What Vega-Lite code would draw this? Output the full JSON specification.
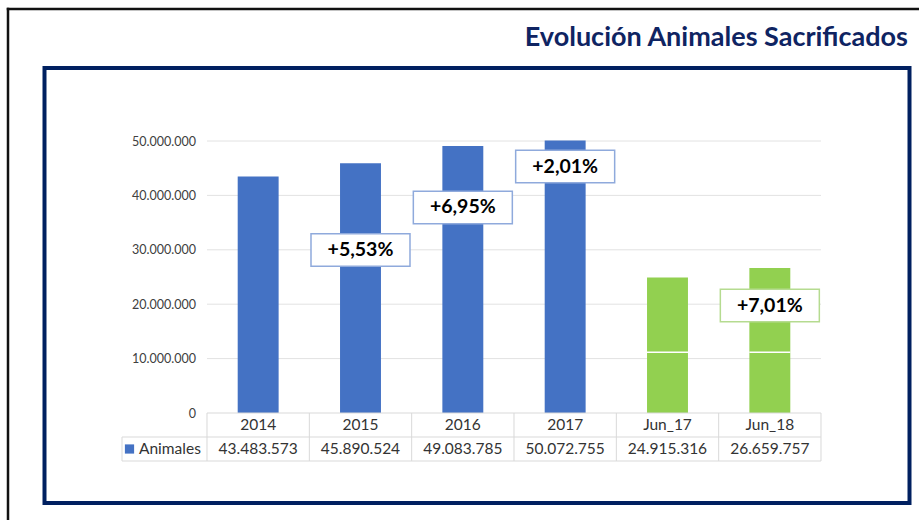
{
  "$schema": "https://vega.github.io/schema/vega-lite/v6.json",
  "width": 865,
  "height": 435,
  "autosize": {"type": "none"},
  "padding": {"left": 44.5, "top": 68, "right": 9.5, "bottom": 17},
  "background": "white",
  "config": {
    "view": {"stroke": "#002060", "strokeWidth": 4},
    "font": "Lato",
    "locale": {"number": {"decimal": ",", "thousands": ".", "grouping": [3], "currency": ["", " €"]}}
  },
  "datasets": {
    "animales": [
      {"periodo": "2014", "animales": 43483573, "grupo": "Año"},
      {"periodo": "2015", "animales": 45890524, "grupo": "Año"},
      {"periodo": "2016", "animales": 49083785, "grupo": "Año"},
      {"periodo": "2017", "animales": 50072755, "grupo": "Año"},
      {"periodo": "Jun_17", "animales": 24915316, "grupo": "Junio", "corte": 11160000},
      {"periodo": "Jun_18", "animales": 26659757, "grupo": "Junio", "corte": 11160000}
    ],
    "variaciones": [
      {"periodo": "2015", "texto": "+5,53%", "pos": 29960000, "grupo": "Año"},
      {"periodo": "2016", "texto": "+6,95%", "pos": 37780000, "grupo": "Año"},
      {"periodo": "2017", "texto": "+2,01%", "pos": 45310000, "grupo": "Año"},
      {"periodo": "Jun_18", "texto": "+7,01%", "pos": 19760000, "grupo": "Junio"}
    ],
    "rejilla": [
      {"v": 10000000}, {"v": 20000000}, {"v": 30000000}, {"v": 40000000}, {"v": 50000000}
    ],
    "uno": [{}]
  },
  "data": {"name": "animales"},
  "layer": [
    {
      "data": {"name": "rejilla"},
      "mark": {"type": "rule", "color": "#e2e2e2", "strokeWidth": 1},
      "encoding": {
        "x": {"datum": "2014", "type": "nominal", "bandPosition": 0, "axis": null},
        "x2": {"datum": "Jun_18", "bandPosition": 1},
        "y": {"field": "v", "type": "quantitative", "title": null}
      }
    },
    {
      "mark": {"type": "bar", "width": {"band": 0.4}},
      "encoding": {
        "x": {
          "field": "periodo", "type": "nominal", "sort": null, "axis": null,
          "scale": {"domain": ["serie", "2014", "2015", "2016", "2017", "Jun_17", "Jun_18"], "paddingInner": 0, "paddingOuter": 0.7264, "align": 0.4047}
        },
        "y": {
          "field": "animales", "type": "quantitative", "title": null,
          "scale": {"domain": [-16544118, 63419118], "nice": false, "zero": false},
          "axis": {
            "values": [0, 10000000, 20000000, 30000000, 40000000, 50000000],
            "format": ",d", "grid": false, "domain": false, "ticks": false, "tickSize": 0,
            "labelPadding": 0, "offset": -151, "title": null,
            "labelFont": "Lato", "labelFontSize": 12.5, "labelColor": "#404040"
          }
        },
        "color": {
          "field": "grupo", "type": "nominal",
          "scale": {"domain": ["Año", "Junio"], "range": ["#4472C4", "#92D050"]},
          "legend": null
        }
      }
    },
    {
      "transform": [{"filter": "datum.corte != null"}],
      "mark": {"type": "tick", "color": "white", "thickness": 1.5, "size": 41, "orient": "horizontal", "opacity": 1},
      "encoding": {
        "x": {"field": "periodo", "type": "nominal", "axis": null},
        "y": {"field": "corte", "type": "quantitative", "title": null}
      }
    },
    {
      "data": {"name": "uno"},
      "mark": {"type": "rule", "color": "#d9d9d9", "strokeWidth": 1},
      "encoding": {
        "x": {"datum": "2014", "type": "nominal", "bandPosition": 0, "axis": null},
        "x2": {"datum": "Jun_18", "bandPosition": 1},
        "y": {"datum": 0, "type": "quantitative", "title": null}
      }
    },
    {
      "data": {"name": "uno"},
      "mark": {"type": "rule", "color": "#d9d9d9", "strokeWidth": 1},
      "encoding": {
        "x": {"datum": "2014", "type": "nominal", "bandPosition": -0.8306, "axis": null},
        "x2": {"datum": "Jun_18", "bandPosition": 1},
        "y": {"datum": -4411765, "type": "quantitative", "title": null}
      }
    },
    {
      "data": {"name": "uno"},
      "mark": {"type": "rule", "color": "#d9d9d9", "strokeWidth": 1},
      "encoding": {
        "x": {"datum": "2014", "type": "nominal", "bandPosition": -0.8306, "axis": null},
        "x2": {"datum": "Jun_18", "bandPosition": 1},
        "y": {"datum": -8823529, "type": "quantitative", "title": null}
      }
    },
    {
      "mark": {"type": "rule", "color": "#d9d9d9", "strokeWidth": 1},
      "encoding": {
        "x": {"field": "periodo", "type": "nominal", "bandPosition": 0, "axis": null},
        "y": {"datum": 0, "type": "quantitative", "title": null},
        "y2": {"datum": -8823529}
      }
    },
    {
      "data": {"name": "uno"},
      "mark": {"type": "rule", "color": "#d9d9d9", "strokeWidth": 1},
      "encoding": {
        "x": {"datum": "Jun_18", "type": "nominal", "bandPosition": 1, "axis": null},
        "y": {"datum": 0, "type": "quantitative", "title": null},
        "y2": {"datum": -8823529}
      }
    },
    {
      "data": {"name": "uno"},
      "mark": {"type": "rule", "color": "#d9d9d9", "strokeWidth": 1},
      "encoding": {
        "x": {"datum": "2014", "type": "nominal", "bandPosition": -0.8306, "axis": null},
        "y": {"datum": -4411765, "type": "quantitative", "title": null},
        "y2": {"datum": -8823529}
      }
    },
    {
      "mark": {"type": "text", "font": "Lato", "fontSize": 15.5, "color": "#333333", "baseline": "middle"},
      "encoding": {
        "x": {"field": "periodo", "type": "nominal", "axis": null},
        "y": {"datum": -2205882, "type": "quantitative", "title": null},
        "text": {"field": "periodo", "type": "nominal"}
      }
    },
    {
      "mark": {"type": "text", "font": "Lato", "fontSize": 15.5, "color": "#333333", "baseline": "middle"},
      "encoding": {
        "x": {"field": "periodo", "type": "nominal", "axis": null},
        "y": {"datum": -6617647, "type": "quantitative", "title": null},
        "text": {"field": "animales", "type": "quantitative", "format": ",d"}
      }
    },
    {
      "data": {"name": "uno"},
      "mark": {"type": "point", "shape": "square", "size": 85, "filled": true, "color": "#4472C4", "opacity": 1},
      "encoding": {
        "x": {"datum": "2014", "type": "nominal", "bandPosition": -0.7573, "axis": null},
        "y": {"datum": -6617647, "type": "quantitative", "title": null}
      }
    },
    {
      "data": {"name": "uno"},
      "mark": {"type": "text", "text": "Animales", "font": "Lato", "fontSize": 15.5, "color": "#333333", "align": "left", "baseline": "middle"},
      "encoding": {
        "x": {"datum": "2014", "type": "nominal", "bandPosition": -0.6645, "axis": null},
        "y": {"datum": -6617647, "type": "quantitative", "title": null}
      }
    },
    {
      "data": {"name": "variaciones"},
      "mark": {"type": "point", "shape": "M-1,-0.33H1V0.33H-1Z", "size": 9801, "filled": true, "fill": "white", "strokeWidth": 1.5, "opacity": 1},
      "encoding": {
        "x": {"field": "periodo", "type": "nominal", "axis": null},
        "y": {"field": "pos", "type": "quantitative", "title": null},
        "stroke": {
          "field": "grupo", "type": "nominal",
          "scale": {"domain": ["Año", "Junio"], "range": ["#8FAADC", "#B5DB90"]},
          "legend": null
        }
      }
    },
    {
      "data": {"name": "variaciones"},
      "mark": {"type": "text", "font": "Lato", "fontWeight": "bold", "fontSize": 19.5, "color": "black", "baseline": "middle"},
      "encoding": {
        "x": {"field": "periodo", "type": "nominal", "axis": null},
        "y": {"field": "pos", "type": "quantitative", "title": null},
        "text": {"field": "texto", "type": "nominal"}
      }
    },
    {
      "data": {"name": "uno"},
      "mark": {"type": "text", "text": "Evolución Animales Sacrificados", "font": "Lato", "fontWeight": "bold", "fontSize": 27, "color": "#0f2462", "align": "right", "baseline": "alphabetic"},
      "encoding": {
        "x": {"datum": "Jun_18", "type": "nominal", "bandPosition": 1.85, "axis": null},
        "y": {"datum": 67463235, "type": "quantitative", "title": null}
      }
    },
    {
      "data": {"name": "uno"},
      "mark": {"type": "rule", "color": "#111111", "strokeWidth": 2.5, "strokeCap": "square"},
      "encoding": {
        "x": {"datum": "2014", "type": "nominal", "bandPosition": -1.9446, "axis": null},
        "x2": {"datum": "Jun_18", "bandPosition": 2.1},
        "y": {"datum": 74264706, "type": "quantitative", "title": null}
      }
    },
    {
      "data": {"name": "uno"},
      "mark": {"type": "rule", "color": "#111111", "strokeWidth": 2.5, "strokeCap": "square"},
      "encoding": {
        "x": {"datum": "2014", "type": "nominal", "bandPosition": -1.9446, "axis": null},
        "y": {"datum": 74264706, "type": "quantitative", "title": null},
        "y2": {"datum": -21507353}
      }
    }
  ]
}
